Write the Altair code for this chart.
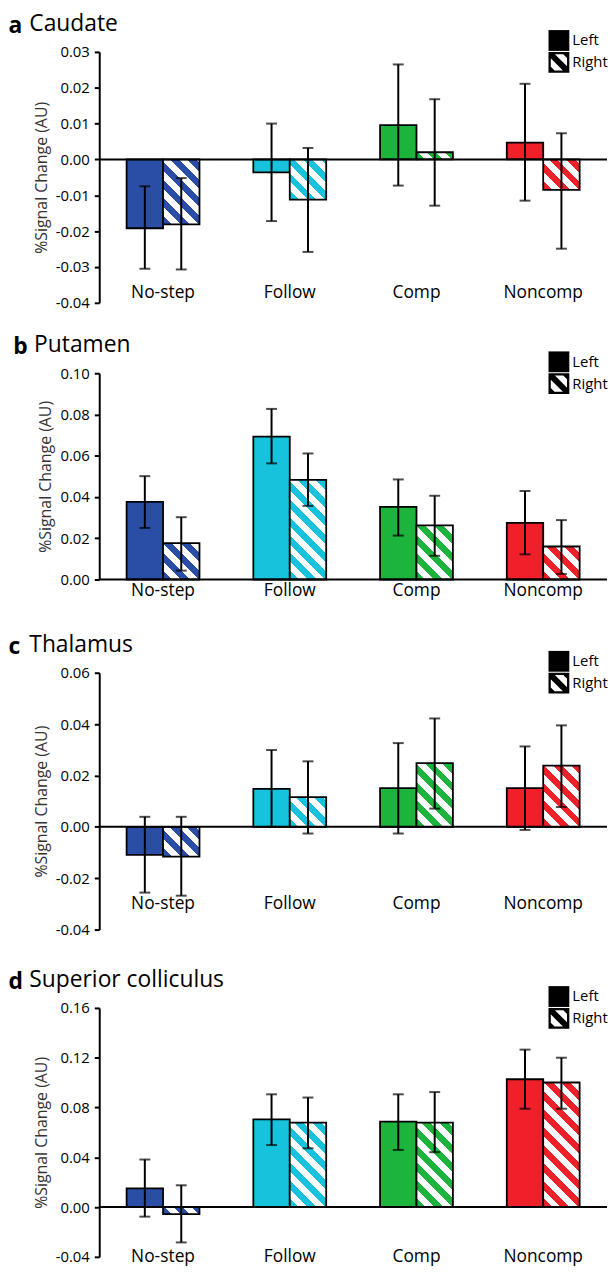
import math
import pandas as pd
import altair as alt

# ---------------- data ----------------
CONDS = ["No-step", "Follow", "Comp", "Noncomp"]
SIDES = ["Left", "Right"]
COLORS = ["#2a4ea6", "#17c3dc", "#1cb43c", "#ef2029"]

CAUDATE_LEFT = [-0.0192, -0.0036, 0.0096, 0.0047]
CAUDATE_RIGHT = [-0.0181, -0.0112, 0.0020, -0.0085]
CAUDATE_LEFT_LO = [-0.0305, -0.0172, -0.0073, -0.0115]
CAUDATE_LEFT_HI = [-0.0075, 0.0100, 0.0265, 0.0211]
CAUDATE_RIGHT_LO = [-0.0307, -0.0258, -0.0129, -0.0249]
CAUDATE_RIGHT_HI = [-0.0052, 0.0032, 0.0168, 0.0073]

PUTAMEN_LEFT = [0.0376, 0.0693, 0.0352, 0.0275]
PUTAMEN_RIGHT = [0.0176, 0.0483, 0.0262, 0.0160]
PUTAMEN_LEFT_LO = [0.0250, 0.0563, 0.0213, 0.0122]
PUTAMEN_LEFT_HI = [0.0501, 0.0827, 0.0485, 0.0429]
PUTAMEN_RIGHT_LO = [0.0043, 0.0357, 0.0115, 0.0027]
PUTAMEN_RIGHT_HI = [0.0302, 0.0611, 0.0406, 0.0288]

THALAMUS_LEFT = [-0.0109, 0.0148, 0.0151, 0.0151]
THALAMUS_RIGHT = [-0.0116, 0.0116, 0.0248, 0.0238]
THALAMUS_LEFT_LO = [-0.0256, 0.0000, -0.0026, -0.0012]
THALAMUS_LEFT_HI = [0.0039, 0.0299, 0.0326, 0.0313]
THALAMUS_RIGHT_LO = [-0.0268, -0.0026, 0.0071, 0.0077]
THALAMUS_RIGHT_HI = [0.0039, 0.0255, 0.0422, 0.0395]

SC_LEFT = [0.0150, 0.0705, 0.0686, 0.1027]
SC_RIGHT = [-0.0057, 0.0679, 0.0679, 0.1001]
SC_LEFT_LO = [-0.0077, 0.0498, 0.0459, 0.0790]
SC_LEFT_HI = [0.0382, 0.0906, 0.0906, 0.1265]
SC_RIGHT_LO = [-0.0284, 0.0472, 0.0441, 0.0790]
SC_RIGHT_HI = [0.0175, 0.0880, 0.0924, 0.1200]

# ---------------- style / layout ----------------
FONT = "Open Sans"
W = 512
PAD_IN, PAD_OUT = 0.425, 0.216
STEP = W / (len(CONDS) - PAD_IN + 2 * PAD_OUT)
BAR_W = STEP * (1 - PAD_IN) / 2
STRIPE = 18.0  # stripe period measured along (x - y), px

HATCH_PATH = ("M-1,-1L1,-1L1,1L-1,1Z "
              "M-0.78,-0.78L-0.78,0.78L0.78,0.78L0.78,-0.78Z "
              "M-1,-1L-0.6,-1L1,0.6L1,1L0.6,1L-1,-0.6Z "
              "M0.2,-1L1,-1L1,-0.2Z "
              "M-1,0.2L-0.2,1L-1,1Z")


def hatch(color, value, domain, height):
    """Diagonal white/colour stripes drawn with a hard-stop linear gradient."""
    w = BAR_W
    h = max(abs(value) * height / (domain[1] - domain[0]), 1.0)
    total = w + h
    stops = []
    pos = 0.0
    while pos < total - 1e-6:
        a = pos / total
        b = min((pos + STRIPE * 0.5) / total, 1.0)
        c = min((pos + STRIPE) / total, 1.0)
        stops += [(a, color), (b, color), (b, "white"), (c, "white")]
        pos += STRIPE
    k = (w + h) / (w * w + h * h)
    return alt.LinearGradient(
        gradient="linear",
        stops=[alt.GradientStop(offset=o, color=col) for o, col in stops],
        x1=0, y1=1, x2=w * k, y2=1 - h * k,
    )


def resolved(ch):
    return (ch.resolve_scale(x="independent", y="independent",
                             fill="independent", shape="independent")
              .resolve_legend(shape="independent"))


def panel(letter, name, left, right, llo, lhi, rlo, rhi,
          domain, ticks, height, lab_pad, legend_y):
    rows = []
    for i, c in enumerate(CONDS):
        rows.append(dict(cond=c, side="Left", value=left[i], lo=llo[i], hi=lhi[i]))
        rows.append(dict(cond=c, side="Right", value=right[i], lo=rlo[i], hi=rhi[i]))
    df = pd.DataFrame(rows)

    yscale = alt.Scale(domain=domain, nice=False, zero=False)
    yaxis = alt.Axis(
        values=ticks, title="%Signal Change (AU)",
        titleFont=FONT, titleFontSize=16, titleFontWeight="normal",
        titleColor="#333333", titlePadding=6,
        labelFont=FONT, labelFontSize=15, labelColor="black", labelPadding=5,
        labelExpr="replace(format(datum.value, '.2f'), '\u2212', '-')",
        tickSize=5, tickWidth=2, tickColor="black",
        domainColor="black", domainWidth=2, grid=False,
    )
    xenc = alt.X(
        "cond:N", sort=CONDS,
        scale=alt.Scale(domain=CONDS, paddingInner=PAD_IN, paddingOuter=PAD_OUT),
        axis=alt.Axis(title=None, domain=False, ticks=False, tickSize=0,
                      labelPadding=lab_pad, labelBaseline="middle", labelAngle=0,
                      labelFont=FONT, labelFontSize=17.5, labelColor="black"),
    )
    xoff = alt.XOffset("side:N", scale=alt.Scale(domain=SIDES, paddingInner=0, paddingOuter=0))

    base = alt.Chart(df)
    layers = []
    layers.append(
        base.transform_filter("datum.side == 'Left'")
        .mark_bar(stroke="black", strokeWidth=1.8)
        .encode(x=xenc, xOffset=xoff,
                y=alt.Y("value:Q", scale=yscale, axis=yaxis), y2=alt.datum(0),
                fill=alt.Fill("cond:N", scale=alt.Scale(domain=CONDS, range=COLORS), legend=None))
    )
    for i, c in enumerate(CONDS):
        layers.append(
            base.transform_filter(f"datum.side == 'Right' && datum.cond == '{c}'")
            .mark_bar(fill=hatch(COLORS[i], right[i], domain, height),
                      stroke="black", strokeWidth=1.8)
            .encode(x=xenc, xOffset=xoff,
                    y=alt.Y("value:Q", scale=yscale, axis=yaxis), y2=alt.datum(0))
        )
    layers.append(
        alt.Chart(pd.DataFrame({"z": [0.0]})).mark_rule(color="black", strokeWidth=2)
        .encode(y=alt.Y("z:Q", scale=yscale, axis=yaxis))
    )
    layers.append(
        base.mark_rule(color="black", strokeWidth=2)
        .encode(x=xenc, xOffset=xoff,
                y=alt.Y("lo:Q", scale=yscale, axis=yaxis), y2="hi:Q")
    )
    layers.append(
        base.transform_fold(["lo", "hi"], as_=["end", "yv"])
        .mark_tick(color="black", thickness=2, size=11)
        .encode(x=xenc, xOffset=xoff, y=alt.Y("yv:Q", scale=yscale, axis=yaxis))
    )
    layers.append(
        base.mark_point(filled=True, color="black", opacity=0, size=10)
        .encode(
            x=xenc, xOffset=xoff, y=alt.Y("value:Q", scale=yscale, axis=yaxis),
            shape=alt.Shape(
                "side:N",
                scale=alt.Scale(domain=SIDES, range=["square", HATCH_PATH]),
                legend=alt.Legend(
                    title=None, orient="none", legendX=453, legendY=legend_y,
                    symbolSize=441, symbolFillColor="black", symbolStrokeWidth=0,
                    symbolOpacity=1, labelFont=FONT, labelFontSize=15,
                    labelColor="black", labelOffset=3, rowPadding=1, padding=0,
                ),
            ),
        )
    )
    inner = alt.layer(*layers).properties(
        width=W, height=height,
        title=alt.TitleParams(
            text=name, anchor="start", font=FONT, fontSize=23,
            fontWeight="normal", color="black", dx=-4, offset=-6,
        ),
    )
    # panel letter (bold) shares the line with the region name
    return resolved(alt.vconcat(
        inner,
        title=alt.TitleParams(
            text=letter, anchor="start", font=FONT, fontSize=23,
            fontWeight="bold", color="black", dx=-21, offset=-25,
        ),
    ))


pa = panel("a", "Caudate", CAUDATE_LEFT, CAUDATE_RIGHT, CAUDATE_LEFT_LO, CAUDATE_LEFT_HI,
           CAUDATE_RIGHT_LO, CAUDATE_RIGHT_HI, [-0.04, 0.03],
           [-0.04, -0.03, -0.02, -0.01, 0.0, 0.01, 0.02, 0.03], 253, -10, -22)
pb = panel("b", "Putamen", PUTAMEN_LEFT, PUTAMEN_RIGHT, PUTAMEN_LEFT_LO, PUTAMEN_LEFT_HI,
           PUTAMEN_RIGHT_LO, PUTAMEN_RIGHT_HI, [0.0, 0.10],
           [0.0, 0.02, 0.04, 0.06, 0.08, 0.10], 208, 11, -22)
pc = panel("c", "Thalamus", THALAMUS_LEFT, THALAMUS_RIGHT, THALAMUS_LEFT_LO, THALAMUS_LEFT_HI,
           THALAMUS_RIGHT_LO, THALAMUS_RIGHT_HI, [-0.04, 0.06],
           [-0.04, -0.02, 0.0, 0.02, 0.04, 0.06], 259, -26, -22)
pd_ = panel("d", "Superior colliculus", SC_LEFT, SC_RIGHT, SC_LEFT_LO, SC_LEFT_HI,
            SC_RIGHT_LO, SC_RIGHT_HI, [-0.04, 0.16],
            [-0.04, 0.0, 0.04, 0.08, 0.12, 0.16], 251, 0, -22)

top = resolved(alt.vconcat(pa, pb, spacing=24))
bottom = resolved(alt.vconcat(pc, pd_, spacing=32))
chart = (
    resolved(alt.vconcat(top, bottom, spacing=35))
    .configure(padding={"left": 0, "top": 0, "right": 0, "bottom": 0}, font=FONT)
    .configure_view(stroke=None)
    .configure_axis(grid=False)
)

chart.save("out.html", embed_options={"renderer": "svg", "actions": False})
